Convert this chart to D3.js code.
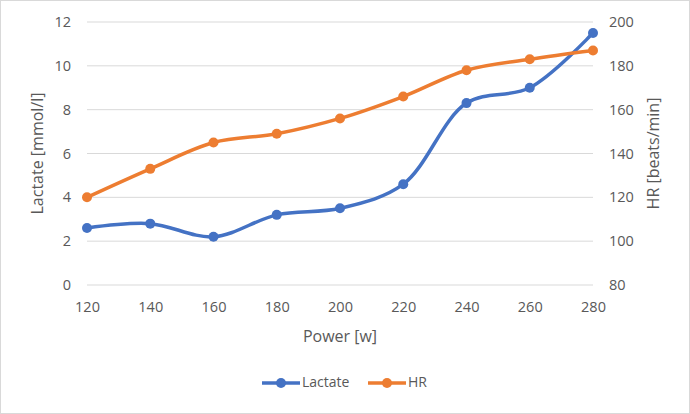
<!DOCTYPE html>
<html><head><meta charset="utf-8">
<script src="https://cdn.jsdelivr.net/npm/d3@7"></script>
<style>body{margin:0;background:#fff}svg{display:block}text{font-family:"Open Sans",sans-serif}</style>
</head><body><svg id="c" width="690" height="414"></svg>
<script>
const power = [120,140,160,180,200,220,240,260,280];
const lactate = [2.6,2.8,2.2,3.2,3.5,4.6,8.3,9.0,11.5];
const hr = [120,133,145,149,156,166,178,183,187];
const leftTicks = [0,2,4,6,8,10,12];
const rightTicks = [80,100,120,140,160,180,200];

const svg = d3.select("#c");
svg.append("rect").attr("x",0.5).attr("y",0.5).attr("width",689).attr("height",413)
  .attr("fill","#fff").attr("stroke","#d9d9d9");
const L=87,R=593,T=22,B=285;
const x = d3.scalePoint().domain(power).range([L,R]);
const yL = d3.scaleLinear().domain([0,12]).range([B,T]);
const yR = d3.scaleLinear().domain([80,200]).range([B,T]);
const tc="#595959";

svg.append("g").selectAll("line").data(leftTicks).join("line")
  .attr("x1",L).attr("x2",R).attr("y1",d=>yL(d)).attr("y2",d=>yL(d))
  .attr("stroke","#d9d9d9").attr("stroke-width",1);

const axL = svg.append("g").attr("transform",`translate(${L},0)`)
  .call(d3.axisLeft(yL).tickValues(leftTicks).tickSize(0).tickPadding(16));
const axR = svg.append("g").attr("transform",`translate(${R},0)`)
  .call(d3.axisRight(yR).tickValues(rightTicks).tickSize(0).tickPadding(16));
const axB = svg.append("g").attr("transform",`translate(0,${B})`)
  .call(d3.axisBottom(x).tickSize(0).tickPadding(17));
[axL,axR,axB].forEach(a=>{a.select(".domain").remove();
  a.selectAll("text").attr("fill",tc).style("font-size","14.5px").style("font-family","'Open Sans',sans-serif");});

svg.append("text").attr("transform",`translate(39,${(T+B)/2}) rotate(-90)`).attr("text-anchor","middle")
  .attr("dominant-baseline","middle").attr("fill",tc).style("font-size","16px").text("Lactate [mmol/l]");
svg.append("text").attr("transform",`translate(655,${(T+B)/2}) rotate(-90)`).attr("text-anchor","middle")
  .attr("dominant-baseline","middle").attr("fill",tc).style("font-size","16px").text("HR [beats/min]");
svg.append("text").attr("x",(L+R)/2).attr("y",342).attr("text-anchor","middle")
  .attr("fill",tc).style("font-size","16px").text("Power [w]");

const series=[{name:"Lactate",vals:lactate,y:yL,c:"#4472C4"},{name:"HR",vals:hr,y:yR,c:"#ED7D31"}];
series.forEach(s=>{
  const line=d3.line().x((d,i)=>x(power[i])).y(d=>s.y(d)).curve(d3.curveCatmullRom.alpha(0.5));
  svg.append("path").datum(s.vals).attr("d",line).attr("fill","none").attr("stroke",s.c)
    .attr("stroke-width",3.5).attr("stroke-linecap","round");
  svg.append("g").selectAll("circle").data(s.vals).join("circle")
    .attr("cx",(d,i)=>x(power[i])).attr("cy",d=>s.y(d)).attr("r",5).attr("fill",s.c);
});

const lg=svg.append("g").attr("transform","translate(262,383)");
series.forEach((s,i)=>{
  const g=lg.append("g").attr("transform",`translate(${i*106},0)`);
  g.append("line").attr("x1",0).attr("x2",38).attr("y1",0).attr("y2",0).attr("stroke",s.c).attr("stroke-width",3.5);
  g.append("circle").attr("cx",19).attr("cy",0).attr("r",5).attr("fill",s.c);
  g.append("text").attr("x",40).attr("y",0).attr("dominant-baseline","middle").attr("fill",tc)
    .style("font-size","14px").text(s.name);
});
</script></body></html>
